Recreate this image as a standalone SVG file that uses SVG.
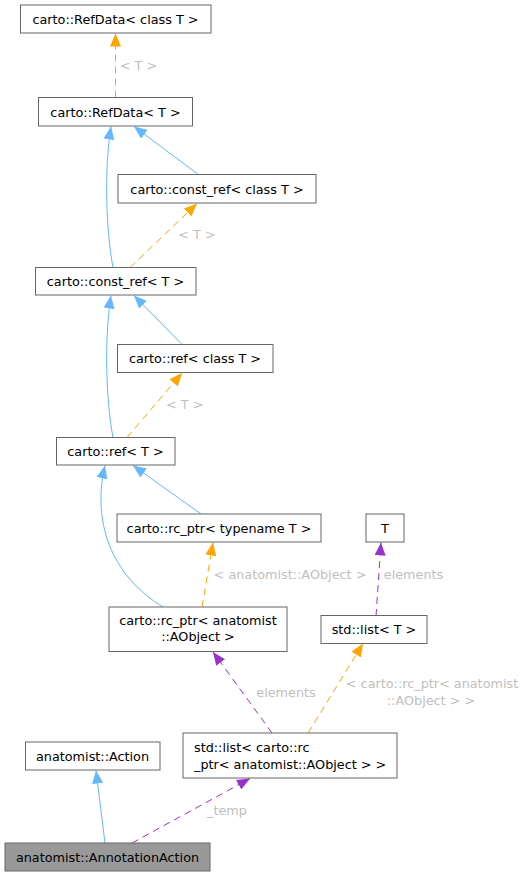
<svg xmlns="http://www.w3.org/2000/svg" width="530" height="876" viewBox="0 0 530 876">
<style>
.n rect{fill:#fff;stroke:#666;stroke-width:1}
.n text,.lbl{font-family:"DejaVu Sans",sans-serif;font-size:12.8px}
.n text{fill:#000}
.lbl{fill:#c0c0c0;text-anchor:middle}
.c{text-anchor:middle}
.e{fill:none;stroke-width:1}
.inh{stroke:#63b8ff}
.tpl{stroke:#ffa500;stroke-dasharray:7,5}
.use{stroke:#9a32cd;stroke-dasharray:7,5}
</style>
<defs>
<marker id="ab" viewBox="0 0 13 11" refX="13" refY="5.5" markerWidth="13" markerHeight="11" markerUnits="userSpaceOnUse" orient="auto"><path d="M0,0L13,5.5L0,11z" fill="#63b8ff"/></marker>
<marker id="ao" viewBox="0 0 13 11" refX="13" refY="5.5" markerWidth="13" markerHeight="11" markerUnits="userSpaceOnUse" orient="auto"><path d="M0,0L13,5.5L0,11z" fill="#ffa500"/></marker>
<marker id="ap" viewBox="0 0 13 11" refX="13" refY="5.5" markerWidth="13" markerHeight="11" markerUnits="userSpaceOnUse" orient="auto"><path d="M0,0L13,5.5L0,11z" fill="#9a32cd"/></marker>
</defs>
<rect width="530" height="876" fill="#fff"/>
<g id="edges">
<path class="e tpl" d="M115.5,97.5L115.5,33.5" marker-end="url(#ao)"/>
<path class="e inh" d="M199,175L134,126.5" marker-end="url(#ab)"/>
<path class="e inh" d="M113,267.5C106,230 104,170 111,126.5" marker-end="url(#ab)"/>
<path class="e tpl" d="M130,267.5L197,203.5" marker-end="url(#ao)"/>
<path class="e inh" d="M182,344.5L134,295.5" marker-end="url(#ab)"/>
<path class="e inh" d="M113,437.5C106,400 104,340 111,295.5" marker-end="url(#ab)"/>
<path class="e tpl" d="M127,437.5L182,373" marker-end="url(#ao)"/>
<path class="e inh" d="M201,514L133,465.5" marker-end="url(#ab)"/>
<path class="e inh" d="M163,607C110,575 92,520 105,465.5" marker-end="url(#ab)"/>
<path class="e tpl" d="M202,607L213,542.5" marker-end="url(#ao)"/>
<path class="e use" d="M376,616L381,542.5" marker-end="url(#ap)"/>
<path class="e use" d="M272,733L213,652" marker-end="url(#ap)"/>
<path class="e tpl" d="M308,733L363,643.5" marker-end="url(#ao)"/>
<path class="e inh" d="M105,843L96,770.5" marker-end="url(#ab)"/>
<path class="e use" d="M132,843L250,778.5" marker-end="url(#ap)"/>
<text class="lbl" x="138.5" y="69.5">&lt; T &gt;</text>
<text class="lbl" x="197" y="238.8">&lt; T &gt;</text>
<text class="lbl" x="184.7" y="408.8">&lt; T &gt;</text>
<text class="lbl" x="290" y="578.5">&lt; anatomist::AObject &gt;</text>
<text class="lbl" x="413.5" y="578.5">elements</text>
<text class="lbl" x="286" y="696.8">elements</text>
<text class="lbl" x="432" y="688">&lt; carto::rc_ptr&lt; anatomist</text>
<text class="lbl" x="431" y="704.5">::AObject &gt; &gt;</text>
<text class="lbl" x="227" y="815">_temp</text>
</g>
<g id="n1" class="n"><rect x="20.5" y="5" width="190.5" height="28"/><text class="c" x="115.5" y="23.5">carto::RefData&lt; class T &gt;</text></g>
<g id="n2" class="n"><rect x="38.5" y="97.5" width="154" height="28.5"/><text class="c" x="115.5" y="116.5">carto::RefData&lt; T &gt;</text></g>
<g id="n3" class="n"><rect x="118" y="174.5" width="198" height="28.5"/><text class="c" x="217" y="193.5">carto::const_ref&lt; class T &gt;</text></g>
<g id="n4" class="n"><rect x="35.5" y="267.5" width="160.5" height="27.5"/><text class="c" x="115.5" y="285.5">carto::const_ref&lt; T &gt;</text></g>
<g id="n5" class="n"><rect x="117.5" y="344.5" width="155.5" height="28"/><text class="c" x="195" y="363">carto::ref&lt; class T &gt;</text></g>
<g id="n6" class="n"><rect x="56.5" y="437.5" width="118.5" height="27.5"/><text class="c" x="115.5" y="455.5">carto::ref&lt; T &gt;</text></g>
<g id="n7" class="n"><rect x="117" y="514" width="204" height="28"/><text class="c" x="219" y="532.5">carto::rc_ptr&lt; typename T &gt;</text></g>
<g id="n8" class="n"><rect x="366" y="514" width="38" height="28"/><text class="c" x="385" y="532.5">T</text></g>
<g id="n9" class="n"><rect x="109" y="607" width="178" height="44.5"/><text class="c" x="198" y="624.5">carto::rc_ptr&lt; anatomist</text><text class="c" x="198" y="641">::AObject &gt;</text></g>
<g id="n10" class="n"><rect x="321" y="615.5" width="106" height="28"/><text class="c" x="374" y="634">std::list&lt; T &gt;</text></g>
<g id="n11" class="n"><rect x="183" y="733" width="214" height="45"/><text x="194" y="751.5">std::list&lt; carto::rc</text><text x="194" y="768.5">_ptr&lt; anatomist::AObject &gt; &gt;</text></g>
<g id="n12" class="n"><rect x="25.5" y="742" width="134.5" height="28"/><text class="c" x="92.5" y="760.5">anatomist::Action</text></g>
<g id="n13" class="n"><rect x="5" y="843" width="205" height="28" style="fill:#999"/><text class="c" x="107.5" y="861.5">anatomist::AnnotationAction</text></g>
</svg>
